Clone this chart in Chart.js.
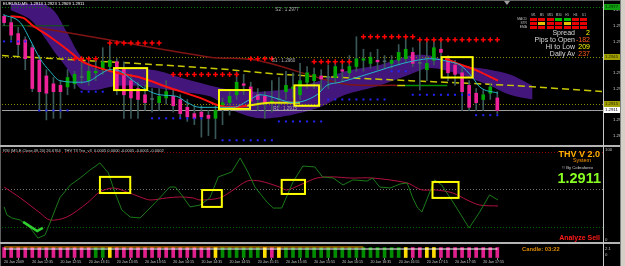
<!DOCTYPE html>
<html lang="en">
<head>
  <meta charset="UTF-8">
  <title>EURUSD,M5</title>
  <script src="https://cdn.jsdelivr.net/npm/chart.js"></script>
  <style>
    html, body { margin: 0; padding: 0; background: #000; }
    body { position: relative; width: 625px; height: 266px; overflow: hidden; font-family: "Liberation Sans", Arial, sans-serif; }
    canvas, .t, .bar { position: absolute; }
    .t { white-space: nowrap; line-height: 1; }
  </style>
</head>
<body>
  <canvas id="main" width="625" height="146" style="left:0;top:0"></canvas>
  <canvas id="rsi" width="625" height="96" style="left:0;top:147px"></canvas>
  <canvas id="strip" width="625" height="22" style="left:0;top:244px"></canvas>

  <!-- frame -->
  <div class="bar" style="left:0;top:0;width:620px;height:1px;background:#606060"></div>
  <div class="bar" style="left:0;top:0;width:1px;height:266px;background:#606060"></div>
  <div class="bar" style="left:0;top:145px;width:620px;height:2px;background:#b4b4b4"></div>
  <div class="bar" style="left:0;top:242px;width:620px;height:2px;background:#b4b4b4"></div>
  <div class="bar" style="left:603px;top:0;width:1px;height:266px;background:#c8c8c8"></div>
  <div class="bar" style="left:620px;top:0;width:5px;height:266px;background:#d4d0c8;border-left:1px solid #808080;box-sizing:border-box"></div>
  <div class="bar" style="left:504px;top:1px;width:0;height:0;border-left:3px solid transparent;border-right:3px solid transparent;border-top:4px solid #a0a0a0"></div>

  <!-- main window texts -->
  <div class="t" style="left:3px;top:2px;font-size:4.2px;color:#fff">EURUSD,M5&nbsp; 1.2913 1.2923 1.2909 1.2911</div>
  <div id="maGrid"></div>
  <div class="t" style="right:50px;top:28.5px;font-size:7px;color:#d8d8d8">Spread</div>
  <div class="t" style="right:35px;top:28.5px;font-size:7px;color:#ffff00">2</div>
  <div class="t" style="right:50px;top:35.8px;font-size:7px;color:#d8d8d8">Pips to Open</div>
  <div class="t" style="right:35px;top:35.8px;font-size:7px;color:#ff5a1e">-182</div>
  <div class="t" style="right:50px;top:43px;font-size:7px;color:#d8d8d8">Hi to Low</div>
  <div class="t" style="right:35px;top:43px;font-size:7px;color:#ffff00">209</div>
  <div class="t" style="right:50px;top:50.3px;font-size:7px;color:#d8d8d8">Daily Av</div>
  <div class="t" style="right:35px;top:50.3px;font-size:7px;color:#ff5a1e">237</div>

  <!-- indicator window texts -->
  <div class="t" style="left:3px;top:148.5px;font-size:4px;color:#c8c8c8">RSI (M5,E,Close,09,20) 26.6764 &nbsp; THV T3 Trix_v3 &nbsp;0.0005 0.0000 -0.0005 -0.0001 -0.0002</div>
  <div class="t" style="right:25px;top:149.5px;font-size:9px;font-weight:bold;color:#ffb000">THV V 2.0</div>
  <div class="t" style="left:573px;top:157.5px;font-size:5.4px;color:#ff9a00">System</div>
  <div class="t" style="left:562px;top:166px;font-size:4.2px;color:#d0d0d0">© By Cobraforex</div>
  <div class="t" style="right:24px;top:170.5px;font-size:14.5px;font-weight:bold;color:#88ff22">1.2911</div>
  <div class="t" style="right:25px;top:233.5px;font-size:7px;font-weight:bold;color:#ff1a1a">Analyze Sell</div>
  <div class="t" style="left:605px;top:147.5px;font-size:4.3px;color:#c0c0c0">100</div>
  <div class="t" style="left:605px;top:238px;font-size:4.3px;color:#c0c0c0">0</div>
  <div class="t" style="left:605px;top:246.5px;font-size:4.3px;color:#c0c0c0">2.1</div>
  <div class="t" style="left:605px;top:252.5px;font-size:4.3px;color:#c0c0c0">0</div>
  <div class="t" style="left:522px;top:246.5px;font-size:5.8px;font-weight:bold;color:#e08c00">Candle: 03:22</div>

  <script>
    // candles, M5 bars 12:15 .. 18:05
    const opens = [1.2971,1.2967,1.2960,1.2956,1.2951,1.2943,1.2933,1.2928,1.2927,1.2926,1.2928,1.2932,1.2930,1.2935,1.2937,1.2939,
      1.2942,1.2938,1.2930,1.2925,1.2921,1.2918,1.2916,1.2919,1.2920,1.2918,1.2913,1.2909,1.2910,1.2908,1.2906,1.2913,
      1.2916,1.2921,1.2928,1.2926,1.2921,1.2920,1.2916,1.2918,1.2923,1.2925,1.2921,1.2929,1.2930,1.2933,1.2932,1.2932,
      1.2937,1.2935,1.2939,1.2943,1.2941,1.2943,1.2942,1.2941,1.2943,1.2944,1.2948,1.2941,1.2937,1.2943,1.2950,1.2944,
      1.2940,1.2935,1.2927,1.2922,1.2918,1.2922,1.2919];
    const highs = [1.2972,1.2970,1.2964,1.2958,1.2953,1.2946,1.2937,1.2932,1.2930,1.2937,1.2936,1.2942,1.2943,1.2944,1.2951,1.2955,
      1.2944,1.2942,1.2934,1.2929,1.2927,1.2925,1.2925,1.2930,1.2924,1.2921,1.2918,1.2914,1.2914,1.2911,1.2914,1.2919,
      1.2923,1.2936,1.2934,1.2929,1.2925,1.2923,1.2930,1.2932,1.2936,1.2935,1.2941,1.2939,1.2938,1.2937,1.2940,1.2942,
      1.2941,1.2946,1.2958,1.2950,1.2948,1.2950,1.2946,1.2946,1.2953,1.2958,1.2951,1.2955,1.2955,1.2956,1.2957,1.2946,
      1.2943,1.2938,1.2930,1.2925,1.2924,1.2928,1.2923];
    const lows = [1.2965,1.2956,1.2946,1.2937,1.2923,1.2911,1.2905,1.2906,1.2906,1.2921,1.2925,1.2928,1.2927,1.2930,1.2934,1.2936,
      1.2921,1.2906,1.2906,1.2906,1.2911,1.2910,1.2911,1.2915,1.2910,1.2906,1.2904,1.2902,1.2894,1.2895,1.2893,1.2902,
      1.2908,1.2918,1.2921,1.2914,1.2911,1.2906,1.2910,1.2913,1.2918,1.2919,1.2918,1.2925,1.2925,1.2924,1.2925,1.2929,
      1.2930,1.2932,1.2936,1.2936,1.2938,1.2937,1.2938,1.2938,1.2940,1.2942,1.2939,1.2924,1.2930,1.2940,1.2942,1.2930,
      1.2927,1.2911,1.2911,1.2911,1.2911,1.2918,1.2909];
    const closes = [1.2967,1.2959,1.2953,1.2944,1.2925,1.2923,1.2922,1.2923,1.2923,1.2932,1.2934,1.2932,1.2936,1.2936,1.2942,1.2943,
      1.2924,1.2921,1.2919,1.2918,1.2916,1.2918,1.2920,1.2923,1.2914,1.2909,1.2907,1.2906,1.2907,1.2906,1.2911,1.2916,
      1.2920,1.2929,1.2927,1.2917,1.2918,1.2916,1.2917,1.2918,1.2927,1.2926,1.2930,1.2935,1.2934,1.2931,1.2932,1.2939,
      1.2936,1.2939,1.2944,1.2944,1.2945,1.2942,1.2942,1.2943,1.2948,1.2950,1.2941,1.2941,1.2941,1.2951,1.2948,1.2935,
      1.2934,1.2923,1.2913,1.2916,1.2921,1.2926,1.2911];

    // moving averages and bands: [bar, price]
    const slowMa = [[0.9,1.2971],[2.7,1.2970],[4.1,1.2965],[6.5,1.2958],[8.9,1.2950],[11.2,1.2942],[13.6,1.2938],[16.0,1.2935],
      [19.3,1.2932],[23.1,1.2926],[27.8,1.2919],[30.6,1.2914],[32.5,1.2913],[34.5,1.2914],[37.7,1.2916],[42.0,1.2916]];
    const fastRed = [[62.6,1.2944],[64.3,1.2941],[66.8,1.2937],[70.1,1.2930]];
    const cyanMa = [[-0.1,1.2972],[2.3,1.2967],[3.7,1.2956],[5.1,1.2944],[6.5,1.2936],[7.9,1.2930],[10.8,1.2929],[12.2,1.2930],
      [13.6,1.2934],[15.0,1.2937],[16.5,1.2936],[18.3,1.2930],[20.3,1.2924],[22.1,1.2921],[24.5,1.2920],[26.0,1.2916],
      [27.8,1.2913],[30.6,1.2913],[32.5,1.2913],[34.9,1.2918],[36.3,1.2921],[37.7,1.2920],[39.1,1.2918],[41.0,1.2916],
      [44.4,1.2921],[45.8,1.2927],[47.7,1.2929],[51.5,1.2934],[54.3,1.2938],[56.6,1.2941],[58.6,1.2943],[60.4,1.2944],
      [63.3,1.2942],[64.7,1.2940],[66.5,1.2932],[67.5,1.2926],[70.1,1.2922]];
    const trendLine = [[3.3,1.2965],[13.6,1.2957],[29.2,1.2945],[35.9,1.2943],[48.1,1.2928],[55.8,1.2927],[56.9,1.2927],[62.9,1.2927]];
    const flatGreen = [[-0.3,1.2965],[9.2,1.2965]];
    const yellowDash = [[-0.3,1.2946],[29.2,1.2938],[39.6,1.2934],[57.6,1.2930],[71.8,1.2927],[85,1.2923]];
    const cloudUpper = [[0.9,1.2979],[3.7,1.2979],[5.5,1.2979],[7.2,1.2974],[8.9,1.2961],[10.8,1.2946],[12.9,1.2938],[15.0,1.2936],
      [18.3,1.2938],[22.1,1.2936],[25.0,1.2932],[29.2,1.2927],[32.5,1.2924],[36.3,1.2923],[40.6,1.2925],[44.8,1.2930],
      [48.4,1.2936],[53.3,1.2940],[57.6,1.2946],[60.4,1.2946],[64.7,1.2940],[68.9,1.2937],[71.8,1.2934],[75.0,1.2927]];
    const cloudLower = [[0.9,1.2975],[3.7,1.2969],[5.5,1.2959],[7.2,1.2948],[8.9,1.2938],[10.8,1.2925],[12.9,1.2924],[15.0,1.2926],
      [18.3,1.2927],[22.1,1.2925],[25.0,1.2923],[29.2,1.2920],[32.5,1.2911],[36.3,1.2906],[40.6,1.2908],[44.8,1.2913],
      [48.4,1.2921],[53.3,1.2927],[57.6,1.2934],[60.4,1.2938],[64.7,1.2934],[68.9,1.2927],[71.8,1.2921],[75.0,1.2918]];

    // dotted support / resistance: [first bar, last bar, price]
    const resistLevels = [[10,13,1.2944],[15,22,1.2954],[24,33,1.2934],[35,38,1.2944],[44,49,1.2942],[51,58,1.2958],[59,70,1.2956]];
    const supportLevels = [[0,3,1.2955],[5,9,1.2911],[11,14,1.2923],[21,28,1.2906],[31,38,1.2892],[39,45,1.2904],
      [46,54,1.2918],[55,57,1.2936],[58,66,1.2921],[67,70,1.2908]];

    const levelPrices = [1.2977, 1.2945, 1.2915, 1.2911];
    const priceTicks = [1.2975, 1.2965, 1.2955, 1.2945, 1.2935, 1.2925, 1.2915, 1.2905, 1.2895];
    const pivotTexts = ['S2 : 1.2977', 'S1 : 1.2960', 'R1 : 1.2915'];
    const pivotAt = [[38.5, 1.2975], [38.0, 1.2943], [38.2, 1.2912]];
    const mainBoxes = [[15.6,20.3,1.2938,1.2924],[30.5,34.9,1.2924,1.2912],[41.2,44.7,1.2927,1.2914],[62.1,66.5,1.2945,1.2932]];

    // lower window
    const rsiGreen = [[0,40.7],[0.4,36.4],[1.1,34.8],[2.3,33.7],[3.7,29.5],[4.8,24.1],[5.8,25.7],[6.5,32.1],[7.9,45.5],[9.4,52.4],
      [10.8,56.1],[12.2,60.4],[13.6,64.1],[14.8,58.8],[15.7,48.7],[16.7,39.1],[17.9,35.3],[19.3,34.8],[20.7,40.1],[22.1,45.5],
      [23.5,51.3],[24.3,51.3],[25.2,47.1],[26.4,40.7],[27.8,41.7],[29.2,45.5],[30.4,56.7],[32.3,59.3],[33.5,66.8],[34.6,59.3],
      [35.6,51.3],[37.3,43.3],[38.2,40.1],[39.4,40.1],[41.0,54.0],[42.4,62.5],[44.1,62.0],[45.2,56.7],[46.7,56.1],[48.1,52.4],
      [49.5,55.1],[51.5,54.5],[52.3,56.1],[53.3,51.3],[54.8,50.8],[56.2,52.9],[57.2,53.5],[58.0,45.5],[58.7,40.1],[59.3,38.0],
      [61.1,55.1],[62.1,52.4],[63.7,43.3],[66.0,29.5],[67.5,38.0],[68.9,47.1],[70.1,44.4]];
    const rsiRed = [[0,51.3],[2.3,45.5],[5.1,37.5],[6.5,33.7],[8.9,35.3],[11.8,42.8],[13.6,48.7],[15.5,50.8],[17.4,48.7],[19.3,46.0],
      [20.7,44.4],[23.1,45.5],[25.0,46.0],[26.8,45.5],[27.8,44.4],[30.6,45.5],[32.5,49.7],[34.5,54.5],[36.3,54.5],[39.1,51.3],
      [40.1,49.7],[42.0,52.4],[44.4,56.1],[46.7,56.7],[49.1,56.1],[52.3,56.1],[57.2,53.5],[58.6,50.8],[59.4,49.7],[61.4,49.7],
      [63.7,48.1],[65.7,44.4],[67.5,41.7],[70.1,41.2]];
    const rsiSignal = [[2.7,32.7],[4.7,27.9],[5.5,29.5]];
    const rsiLevels = [70, 50, 30];
    const rsiBoxes = [[13.6,17.9,56.7,48.1],[28.1,30.9,49.7,40.7],[39.4,42.7,55.1,47.6],[60.8,64.5,54.0,45.5]];

    // trend strip: S sell, B buy, N neutral
    const stripSignals = ('SSSSSSSSSSSSS' + 'BBN' + 'SSSSSSSSSSSSSS' + 'N' + 'BBBBBB' + 'NSN' +
      'BBBBBBBBBBBBBBBBB' + 'N' + 'SSNN' + 'SSSSSSSSS').split('');
    const stripWhite = [[0,0.9],[70,0.9]];
    const stripOrange = [[0,1.1],[51,1.1]];
    const timeLabels = ['20 Jan 2009','20 Jan 12:35','20 Jan 12:55','20 Jan 13:15','20 Jan 13:35','20 Jan 13:55',
      '20 Jan 14:15','20 Jan 14:35','20 Jan 14:55','20 Jan 15:15','20 Jan 15:35','20 Jan 15:55','20 Jan 16:15',
      '20 Jan 16:35','20 Jan 16:55','20 Jan 17:15','20 Jan 17:35','20 Jan 17:55'];

    const maTimeframes = ['M1','M5','M15','M30','H1','H4','D1'];
    const maRows = ['MACD','STR','EMA'];
    const maGrid = ['RRRGGRR','RYRRYRR','RRRRRRR'];

    // ---------------------------------------------------------------
    const X_MIN = -0.3, X_MAX = 85;
    Chart.defaults.font.family = '"Liberation Sans", Arial, sans-serif';
    Chart.defaults.animation = false;
    Chart.defaults.events = [];
    Chart.defaults.plugins.legend.display = false;
    Chart.defaults.plugins.tooltip.enabled = false;

    const noPad = s => { s.paddingTop = 0; s.paddingBottom = 0; s.paddingLeft = 0; s.paddingRight = 0; };
    const hiddenX = () => ({ type: 'linear', min: X_MIN, max: X_MAX, offset: false, display: false });
    const rightAxis = (min, max, extra) => Object.assign({
      position: 'right', min, max,
      grid: { display: false }, border: { display: false }, ticks: { display: false },
      afterFit: s => { s.width = 22; noPad(s); }
    }, extra);

    const dotsFrom = levels => {
      const pts = [];
      levels.forEach(([a, b, p]) => { for (let i = a; i <= b; i++) pts.push([i, p]); });
      return pts;
    };
    const bodyColor = i => {
      const d = closes[i] - opens[i];
      if (Math.abs(d) < 0.00005) return '#4a6868';
      return d > 0 ? '#00a800' : '#ee2299';
    };
    const trendColor = x => x < 55.8 ? '#801414' : (x < 56.9 ? '#d0d000' : '#009000');
    const signalColor = { S: '#e0208c', B: '#008c00', N: '#ffdd00' };

    function hLine(ctx, a, py, color, dash) {
      ctx.strokeStyle = color; ctx.setLineDash(dash); ctx.lineWidth = 1;
      ctx.beginPath(); ctx.moveTo(a.left, py); ctx.lineTo(a.right, py); ctx.stroke();
    }
    function boxes(chart, list) {
      const { ctx, scales: { x, y } } = chart;
      ctx.save();
      ctx.strokeStyle = '#ffff00'; ctx.lineWidth = 2;
      list.forEach(([i0, i1, hi, lo]) => {
        const l = x.getPixelForValue(i0), r = x.getPixelForValue(i1);
        const t = y.getPixelForValue(hi), b = y.getPixelForValue(lo);
        ctx.strokeRect(l, t, r - l, b - t);
      });
      ctx.restore();
    }

    const mainDecor = {
      id: 'mainDecor',
      beforeDatasetsDraw(chart) {
        const { ctx, chartArea: a, scales: { y } } = chart;
        const styles = [['#0a7a0a', [1, 2]], ['#8a8a00', [1, 2]], ['#8a8a00', [1, 2]], ['#a0a0a0', []]];
        ctx.save();
        levelPrices.forEach((p, k) => hLine(ctx, a, Math.round(y.getPixelForValue(p)) + 0.5, styles[k][0], styles[k][1]));
        ctx.restore();
      },
      afterDatasetsDraw(chart) {
        boxes(chart, mainBoxes);
        const { ctx, scales: { x, y } } = chart;
        ctx.save();
        ctx.font = '4.6px "Liberation Sans"'; ctx.fillStyle = '#b0b0b0'; ctx.textBaseline = 'middle';
        pivotTexts.forEach((t, k) => ctx.fillText(t, x.getPixelForValue(pivotAt[k][0]), y.getPixelForValue(pivotAt[k][1])));
        ctx.restore();
      },
      afterDraw(chart) {
        const { ctx, chartArea: a, scales: { y } } = chart;
        const fills = [['#10a010', '#002800'], ['#a0a000', '#282800'], ['#a0a000', '#282800'], ['#ffffff', '#000000']];
        ctx.save();
        ctx.font = '4.3px "Liberation Sans"'; ctx.textBaseline = 'middle'; ctx.textAlign = 'left';
        levelPrices.forEach((p, k) => {
          const py = Math.round(y.getPixelForValue(p));
          ctx.fillStyle = fills[k][0]; ctx.fillRect(a.right + 1, py - 3, 16, 6);
          ctx.fillStyle = fills[k][1]; ctx.fillText(p.toFixed(4), a.right + 2, py + 0.3);
        });
        ctx.restore();
      }
    };

    new Chart(document.getElementById('main'), {
      type: 'bar',
      data: {
        datasets: [
          { type: 'line', data: cloudLower, borderWidth: 0, pointRadius: 0, tension: 0.3, order: 30 },
          { type: 'line', data: cloudUpper, borderWidth: 0, pointRadius: 0, tension: 0.3, fill: '-1', backgroundColor: '#42167a', order: 30 },
          { type: 'line', data: flatGreen, borderColor: '#0b5e0b', borderWidth: 1, pointRadius: 0, order: 20 },
          { type: 'line', data: trendLine, borderColor: '#801414', borderWidth: 1.5, pointRadius: 0, tension: 0.3,
            segment: { borderColor: s => trendColor(s.p0.parsed.x) }, order: 20 },
          { type: 'line', data: yellowDash, borderColor: '#c8c800', borderWidth: 1.5, borderDash: [7, 4], pointRadius: 0, tension: 0.3, order: 20 },
          { type: 'bar', data: lows.map((l, i) => ({ x: i, y: [l, highs[i]] })), backgroundColor: '#3a5858',
            barThickness: 1, grouped: false, order: 12 },
          { type: 'bar', data: opens.map((o, i) => ({ x: i, y: [o, closes[i]] })), backgroundColor: c => bodyColor(c.dataIndex),
            barThickness: 3, grouped: false, minBarLength: 1, order: 11 },
          { type: 'line', data: slowMa, borderColor: '#ff1010', borderWidth: 2, pointRadius: 0, cubicInterpolationMode: 'monotone',
            segment: { borderColor: s => s.p0.parsed.x >= 34.5 ? '#e8e800' : '#ff1010' }, order: 5 },
          { type: 'line', data: fastRed, borderColor: '#ff1010', borderWidth: 2, pointRadius: 0, cubicInterpolationMode: 'monotone', order: 5 },
          { type: 'line', data: cyanMa, borderColor: '#22b8c8', borderWidth: 1, pointRadius: 0, cubicInterpolationMode: 'monotone', order: 4 },
          { type: 'line', data: dotsFrom(resistLevels), showLine: false, pointStyle: 'cross', pointRadius: 2.5,
            pointBorderWidth: 1.5, pointBorderColor: '#ff0000', order: 2 },
          { type: 'line', data: dotsFrom(supportLevels), showLine: false, pointStyle: 'rect', pointRadius: 1.4,
            pointBorderWidth: 0, pointBackgroundColor: '#2424ff', order: 2 }
        ]
      },
      options: {
        responsive: false, devicePixelRatio: 1,
        layout: { padding: { left: 2, top: 3, right: 0, bottom: 1 }, autoPadding: false },
        scales: {
          x: hiddenX(),
          y: rightAxis(1.2889, 1.29795, {
            afterBuildTicks: s => { s.ticks = priceTicks.map(v => ({ value: v })); },
            ticks: { display: true, color: '#d0d0d0', padding: 2, font: { size: 4.3 }, callback: v => v.toFixed(4) }
          })
        },
        plugins: { filler: { drawTime: 'beforeDatasetsDraw' } }
      },
      plugins: [mainDecor]
    });

    const rsiDecor = {
      id: 'rsiDecor',
      beforeDatasetsDraw(chart) {
        const { ctx, chartArea: a, scales: { y } } = chart;
        const cols = ['#8b0000', '#707070', '#006400'];
        ctx.save();
        rsiLevels.forEach((v, k) => hLine(ctx, a, Math.round(y.getPixelForValue(v)) + 0.5, cols[k], [1, 2]));
        ctx.restore();
      },
      afterDatasetsDraw(chart) { boxes(chart, rsiBoxes); }
    };

    new Chart(document.getElementById('rsi'), {
      type: 'line',
      data: {
        datasets: [
          { data: rsiRed, borderColor: '#b01040', borderWidth: 1, pointRadius: 0, tension: 0.3, order: 3 },
          { data: rsiGreen, borderColor: '#1a7a1a', borderWidth: 1, pointRadius: 0, tension: 0, order: 2 },
          { data: rsiSignal, borderColor: '#30d030', borderWidth: 2.5, pointRadius: 0, tension: 0, order: 1 }
        ]
      },
      options: {
        responsive: false, devicePixelRatio: 1,
        layout: { padding: { left: 2, top: 1, right: 0, bottom: 1 }, autoPadding: false },
        scales: { x: hiddenX(), y: rightAxis(22, 72.1) }
      },
      plugins: [rsiDecor]
    });

    new Chart(document.getElementById('strip'), {
      type: 'bar',
      data: {
        datasets: [
          { type: 'line', data: stripWhite, borderColor: '#ffffff', borderWidth: 1, pointRadius: 0, order: 1 },
          { type: 'line', data: stripOrange, borderColor: '#ffa000', borderWidth: 1, pointRadius: 0, order: 1 },
          { type: 'bar', data: stripSignals.map((s, i) => ({ x: i, y: [0.05, 1.05] })),
            backgroundColor: c => signalColor[stripSignals[c.dataIndex]], barThickness: 3, grouped: false, order: 5 }
        ]
      },
      options: {
        responsive: false, devicePixelRatio: 1,
        layout: { padding: { left: 2, top: 2, right: 0, bottom: 0 }, autoPadding: false },
        scales: {
          x: {
            type: 'linear', min: X_MIN, max: X_MAX, offset: false, position: 'bottom',
            afterBuildTicks: s => { s.ticks = timeLabels.map((_, k) => ({ value: k * 4 })); },
            afterFit: s => { s.height = 8; noPad(s); },
            grid: { drawOnChartArea: false, drawTicks: true, tickLength: 2, color: '#909090' },
            border: { display: false },
            ticks: { align: 'start', maxRotation: 0, minRotation: 0, autoSkip: false, padding: 0,
              color: '#c8c8c8', font: { size: 3.6 }, callback: (v, k) => timeLabels[k] }
          },
          y: rightAxis(0, 1.2)
        }
      }
    });

    // small MA table in the top right corner
    const grid = document.getElementById('maGrid');
    const cellCol = { R: '#e80000', G: '#00c000', Y: '#e8c000' };
    maTimeframes.forEach((tf, k) => {
      const d = document.createElement('div');
      d.className = 't';
      d.style.cssText = `left:${530 + k * 8.4}px;top:13.5px;width:7px;text-align:center;font-size:3px;color:#c0c0c0`;
      d.textContent = tf;
      grid.appendChild(d);
    });
    maRows.forEach((name, r) => {
      const lab = document.createElement('div');
      lab.className = 't';
      lab.style.cssText = `right:${625 - 527}px;top:${17.8 + r * 4}px;font-size:3.3px;color:#c0c0c0`;
      lab.textContent = name;
      grid.appendChild(lab);
      maGrid[r].split('').forEach((c, k) => {
        const cell = document.createElement('div');
        cell.className = 'bar';
        cell.style.cssText = `left:${530 + k * 8.4}px;top:${18 + r * 4}px;width:7px;height:3px;background:${cellCol[c]}`;
        grid.appendChild(cell);
      });
    });
  </script>
</body>
</html>
